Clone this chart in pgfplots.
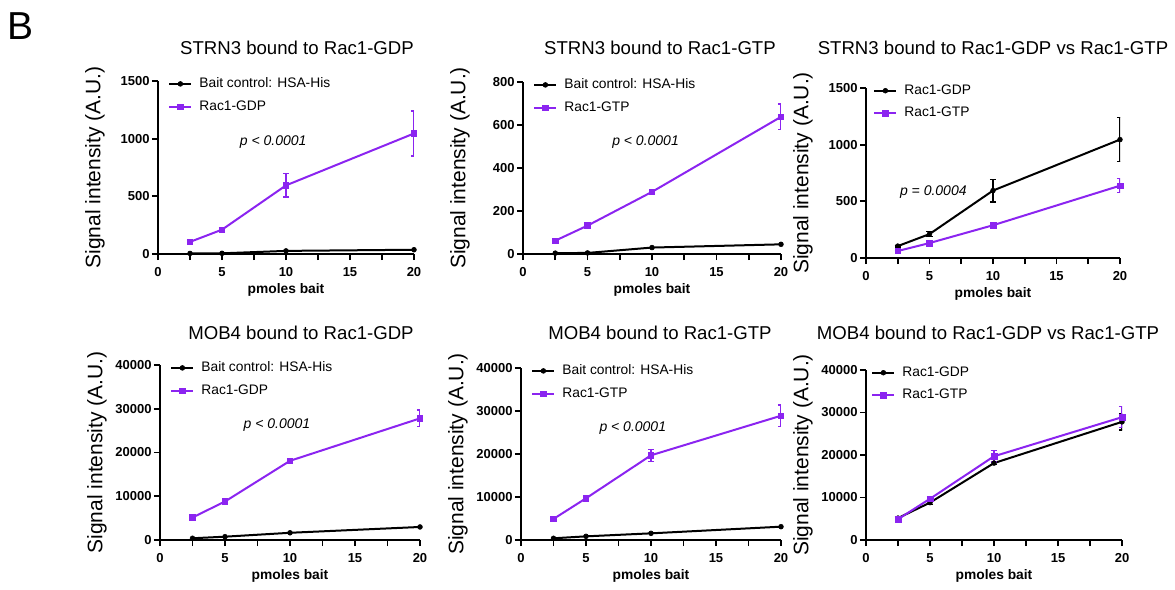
\documentclass[border=0pt]{standalone}
\usepackage{pgfplots}
\usepackage{pgfplotstable}
\pgfplotsset{compat=1.18}
\usepackage{fontspec}
\setmainfont{Liberation Sans}
\definecolor{vio}{RGB}{139,36,240}

% data: x y err
\pgfplotstableread{
x y
2.5 5
5 6
10 27
20 37
}\hsaA
\pgfplotstableread{
x y e
2.5 105 8
5 211 20
10 595 100
20 1045 195
}\gdpA
\pgfplotstableread{
x y
2.5 4
5 5
10 30
20 45
}\hsaB
\pgfplotstableread{
x y e
2.5 62 5
5 132 12
10 289 8
20 638 60
}\gtpB
\pgfplotstableread{
x y
2.5 400
5 760
10 1650
20 2980
}\hsaC
\pgfplotstableread{
x y e
2.5 5150 300
5 8800 400
10 18100 400
20 27800 1900
}\gdpC
\pgfplotstableread{
x y
2.5 400
5 850
10 1550
20 3100
}\hsaD
\pgfplotstableread{
x y e
2.5 4900 300
5 9700 500
10 19700 1350
20 28900 2500
}\gtpD

\tikzset{ptext/.style={font=\fontsize{7}{8}\selectfont\itshape}}

\pgfplotsset{
  prism/.style={
    scale only axis, anchor=south west,
    axis lines=left, axis line style={-, line width=1pt},
    xmin=0, xmax=20, ymin=0,
    xtick={0,5,10,15,20}, minor x tick num=1,
    tick align=outside, major tick length=3pt, minor tick length=3pt,
    every tick/.style={black, line width=0.9pt},
    tick label style={font=\fontsize{6.5}{7}\selectfont\bfseries},
    yticklabel style={inner sep=1pt},
    /pgf/number format/assume math mode=true,
    /pgf/number format/1000 sep={},
    scaled y ticks=false,
    xlabel={pmoles bait}, ylabel={Signal intensity (A.U.)},
    xlabel style={font=\fontsize{6.9}{8}\selectfont\bfseries, at={([yshift=-18pt]axis description cs:0.5,0)}, anchor=center},
    ylabel style={font=\fontsize{10.5}{12}\selectfont, at={([xshift=-31.5pt]axis description cs:0,0.5)}, anchor=center},
    legend style={at={(axis description cs:0,1)}, anchor=north west, xshift=5pt, yshift=2pt,
      draw=none, fill=none, inner sep=0pt, font=\fontsize{6.9}{8}\selectfont, row sep=5pt,
      nodes={inner sep=0pt}, /tikz/every odd column/.append style={column sep=3.5pt}},
    legend cell align=left,
    legend image code/.code={\draw[mark repeat=2,mark phase=2,##1] plot coordinates {(0pt,0pt) (5.5pt,0pt) (11pt,0pt)};},
  },
  ctrl/.style={black, line width=1pt, mark=*, mark size=1.2pt, mark options={solid, line width=0.3pt}},
  ctrlE/.style={ctrl, error bars/.cd, y dir=both, y explicit,
    error bar style={line width=0.6pt}, error mark options={rotate=90, mark size=1.6pt, line width=0.6pt}},
  viol/.style={vio, line width=1pt, mark=square*, mark size=1.4pt, mark options={solid, line width=0.3pt},
    error bars/.cd, y dir=both, y explicit,
    error bar style={line width=0.6pt}, error mark options={rotate=90, mark size=1.6pt, line width=0.6pt}},
}

\begin{document}
\begin{tikzpicture}
\path[use as bounding box] (0,0) rectangle (587.5pt,-295pt);
\node[font=\fontsize{19.5}{20}\selectfont] at (10.5pt,-13pt) {B};

\begin{scope}[font=\fontsize{9.3}{10}\selectfont]
\node at (148.5pt,-24pt) {STRN3 bound to Rac1-GDP};
\node at (330pt,-24pt) {STRN3 bound to Rac1-GTP};
\node at (496.5pt,-24pt) {STRN3 bound to Rac1-GDP vs Rac1-GTP};
\node at (150.5pt,-166.5pt) {MOB4 bound to Rac1-GDP};
\node at (330pt,-166.5pt) {MOB4 bound to Rac1-GTP};
\node at (494pt,-166.5pt) {MOB4 bound to Rac1-GDP vs Rac1-GTP};
\end{scope}

% top row
\begin{axis}[prism, at={(79pt,-127pt)}, width=128pt, height=86.5pt,
  ymax=1500, ytick={0,500,1000,1500}]
\addplot[ctrl] table[x=x,y=y] {\hsaA};
\addplot[viol] table[x=x,y=y,y error=e] {\gdpA};
\legend{Bait control: HSA-His, Rac1-GDP}
\node[ptext] at (axis cs:9,971) {p < 0.0001};
\end{axis}

\begin{axis}[prism, at={(261.5pt,-127pt)}, width=129pt, height=86pt,
  ymax=800, ytick={0,200,400,600,800}]
\addplot[ctrl] table[x=x,y=y] {\hsaB};
\addplot[viol] table[x=x,y=y,y error=e] {\gtpB};
\legend{Bait control: HSA-His, Rac1-GTP}
\node[ptext] at (axis cs:9.5,521) {p < 0.0001};
\end{axis}

\begin{axis}[prism, at={(433pt,-129pt)}, width=127pt, height=85pt,
  ymax=1500, ytick={0,500,1000,1500}, legend style={xshift=-1.5pt}]
\addplot[ctrlE] table[x=x,y=y,y error=e] {\gdpA};
\addplot[viol] table[x=x,y=y,y error=e] {\gtpB};
\legend{Rac1-GDP, Rac1-GTP}
\node[ptext] at (axis cs:5.3,582) {p = 0.0004};
\end{axis}

% bottom row
\begin{axis}[prism, at={(80pt,-270pt)}, width=130pt, height=87.5pt,
  ymax=40000, ytick={0,10000,20000,30000,40000}]
\addplot[ctrl] table[x=x,y=y] {\hsaC};
\addplot[viol] table[x=x,y=y,y error=e] {\gdpC};
\legend{Bait control: HSA-His, Rac1-GDP}
\node[ptext] at (axis cs:9,26290) {p < 0.0001};
\end{axis}

\begin{axis}[prism, at={(260.5pt,-270pt)}, width=130pt, height=86pt,
  ymax=40000, ytick={0,10000,20000,30000,40000}]
\addplot[ctrl] table[x=x,y=y] {\hsaD};
\addplot[viol] table[x=x,y=y,y error=e] {\gtpD};
\legend{Bait control: HSA-His, Rac1-GTP}
\node[ptext] at (axis cs:8.6,26050) {p < 0.0001};
\end{axis}

\begin{axis}[prism, at={(433pt,-270pt)}, width=128pt, height=85pt,
  ymax=40000, ytick={0,10000,20000,30000,40000}, legend style={xshift=-2.5pt}]
\addplot[ctrlE] table[x=x,y=y,y error=e] {\gdpC};
\addplot[viol] table[x=x,y=y,y error=e] {\gtpD};
\legend{Rac1-GDP, Rac1-GTP}
\end{axis}
\end{tikzpicture}
\end{document}
